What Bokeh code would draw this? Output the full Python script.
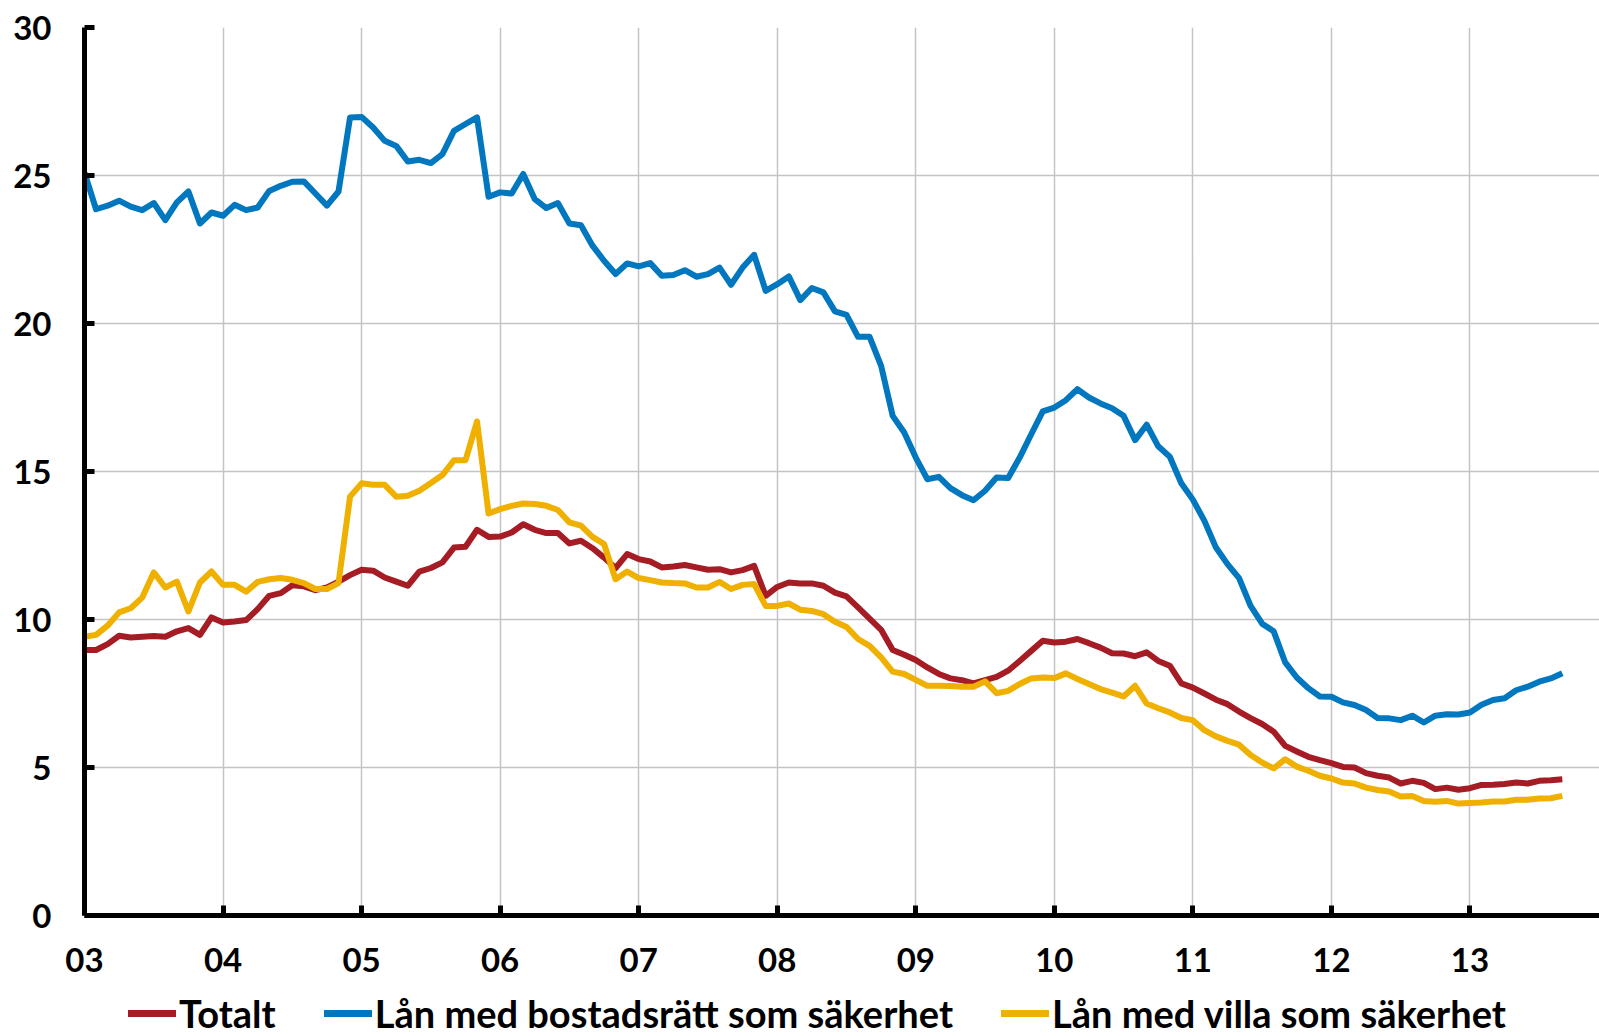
from bokeh.plotting import figure
from bokeh.layouts import column
from bokeh.models import Range1d, FixedTicker, Legend, LegendItem, ColumnDataSource
from bokeh.embed import file_html
from bokeh.resources import INLINE

# ---- data (monthly, Jan 2003 - Sep 2013) ----
start_year = 3          # 2003, shown as "03"
tick_years = [3, 4, 5, 6, 7, 8, 9, 10, 11, 12, 13]
tick_labels = ["03", "04", "05", "06", "07", "08", "09", "10", "11", "12", "13"]
y_ticks = [0, 5, 10, 15, 20, 25, 30]

series_names = ["Totalt", "Lån med bostadsrätt som säkerhet", "Lån med villa som säkerhet"]

totalt = [
    8.97, 8.97, 9.17, 9.45, 9.39, 9.42, 9.44, 9.42, 9.60, 9.71, 9.48, 10.07,
    9.90, 9.93, 9.98, 10.35, 10.80, 10.89, 11.16, 11.12, 10.99, 11.08, 11.28, 11.50,
    11.68, 11.65, 11.42, 11.28, 11.14, 11.62, 11.74, 11.93, 12.43, 12.46, 13.03, 12.79,
    12.80, 12.94, 13.22, 13.03, 12.92, 12.92, 12.57, 12.66, 12.41, 12.09, 11.74, 12.21,
    12.04, 11.96, 11.76, 11.79, 11.84, 11.76, 11.68, 11.70, 11.59, 11.67, 11.81, 10.80,
    11.10, 11.25, 11.22, 11.22, 11.14, 10.91, 10.78, 10.41, 10.03, 9.65, 8.97, 8.81,
    8.63, 8.38, 8.16, 8.01, 7.95, 7.84, 7.95, 8.06, 8.27, 8.60, 8.94, 9.28,
    9.22, 9.25, 9.34, 9.20, 9.05, 8.86, 8.85, 8.76, 8.89, 8.60, 8.44, 7.84,
    7.70, 7.50, 7.29, 7.14, 6.89, 6.67, 6.47, 6.21, 5.73, 5.54, 5.36, 5.25,
    5.15, 5.02, 5.00, 4.81, 4.72, 4.66, 4.46, 4.55, 4.48, 4.27, 4.32, 4.25,
    4.30, 4.41, 4.42, 4.44, 4.49, 4.46, 4.55, 4.57, 4.60,
]

bostadsratt = [
    25.10, 23.86, 23.98, 24.15, 23.95, 23.83, 24.07, 23.49, 24.09, 24.46, 23.38, 23.75,
    23.64, 24.01, 23.83, 23.92, 24.48, 24.65, 24.79, 24.80, 24.39, 23.98, 24.46, 26.96,
    26.98, 26.62, 26.17, 26.00, 25.47, 25.53, 25.42, 25.72, 26.51, 26.74, 26.96, 24.28,
    24.43, 24.39, 25.05, 24.20, 23.90, 24.07, 23.38, 23.32, 22.63, 22.12, 21.67, 22.03,
    21.93, 22.04, 21.61, 21.64, 21.80, 21.58, 21.67, 21.89, 21.31, 21.89, 22.32, 21.10,
    21.33, 21.59, 20.79, 21.20, 21.05, 20.41, 20.29, 19.55, 19.55, 18.57, 16.88, 16.32,
    15.47, 14.74, 14.82, 14.44, 14.20, 14.03, 14.35, 14.80, 14.78, 15.47, 16.26, 17.03,
    17.16, 17.41, 17.78, 17.50, 17.30, 17.14, 16.88, 16.06, 16.58, 15.85, 15.50, 14.60,
    14.05, 13.33, 12.43, 11.87, 11.40, 10.46, 9.86, 9.60, 8.55, 8.04, 7.68, 7.40,
    7.39, 7.20, 7.11, 6.94, 6.67, 6.66, 6.60, 6.75, 6.52, 6.75, 6.80, 6.79,
    6.86, 7.12, 7.28, 7.34, 7.61, 7.73, 7.90, 8.01, 8.18,
]

villa = [
    9.42, 9.48, 9.79, 10.24, 10.38, 10.74, 11.59, 11.08, 11.28, 10.27, 11.25, 11.62,
    11.17, 11.17, 10.94, 11.27, 11.36, 11.40, 11.34, 11.23, 11.03, 11.03, 11.23, 14.15,
    14.60, 14.55, 14.55, 14.15, 14.18, 14.35, 14.61, 14.88, 15.38, 15.38, 16.69, 13.58,
    13.73, 13.84, 13.92, 13.90, 13.84, 13.70, 13.28, 13.17, 12.79, 12.55, 11.36, 11.62,
    11.40, 11.33, 11.25, 11.23, 11.22, 11.08, 11.08, 11.27, 11.03, 11.17, 11.20, 10.46,
    10.46, 10.54, 10.33, 10.29, 10.18, 9.92, 9.75, 9.34, 9.11, 8.72, 8.24, 8.16,
    7.96, 7.76, 7.76, 7.75, 7.73, 7.73, 7.91, 7.51, 7.59, 7.82, 8.01, 8.04,
    8.02, 8.18, 7.99, 7.82, 7.65, 7.53, 7.40, 7.76, 7.16, 7.00, 6.86, 6.67,
    6.60, 6.26, 6.05, 5.90, 5.77, 5.42, 5.17, 4.97, 5.28, 5.03, 4.89, 4.72,
    4.63, 4.49, 4.46, 4.32, 4.24, 4.19, 4.02, 4.04, 3.87, 3.84, 3.87, 3.78,
    3.80, 3.82, 3.85, 3.85, 3.91, 3.91, 3.95, 3.96, 4.04,
]

colors = ["#a51c24", "#0077bf", "#efb000"]

# month positions in years
xs = [start_year + i / 12 for i in range(len(totalt))]

FONT = "Lato"
W = 1599

p = figure(
    width=W, height=988,
    output_backend="svg", toolbar_location=None,
    x_range=Range1d(3, 3 + (W - 84.5) / 138.5), y_range=Range1d(0, 30),
    min_border_left=84, min_border_top=27, min_border_right=0, min_border_bottom=73,
)
p.outline_line_color = None
p.background_fill_color = "white"
p.border_fill_color = "white"

# grid
p.xgrid.ticker = FixedTicker(ticks=tick_years)
p.ygrid.ticker = FixedTicker(ticks=y_ticks)
for g in (p.xgrid, p.ygrid):
    g.grid_line_color = "#c4c4c4"
    g.grid_line_width = 1.5

# axes
for ax in (p.xaxis, p.yaxis):
    ax.axis_line_color = "black"
    ax.axis_line_width = 5
    ax.major_tick_line_color = "black"
    ax.major_tick_line_width = 5
    ax.major_tick_in = 10
    ax.major_tick_out = 0
    ax.minor_tick_line_color = None
    ax.major_label_text_font = FONT
    ax.major_label_text_font_style = "bold"
    ax.major_label_text_font_size = "33px"
    ax.major_label_text_color = "black"

p.xaxis.ticker = FixedTicker(ticks=tick_years)
p.xaxis.major_label_overrides = {t: lab for t, lab in zip(tick_years, tick_labels)}
p.xaxis.major_label_standoff = 32
p.yaxis.ticker = FixedTicker(ticks=y_ticks)
p.yaxis.major_label_standoff = 33

for ys, col in zip([totalt, bostadsratt, villa], colors):
    src = ColumnDataSource(dict(x=xs, y=ys))
    p.line("x", "y", source=src, line_color=col, line_width=6, line_join="round")

# ---- legend in its own strip below the chart ----
leg = figure(
    width=W, height=48,
    output_backend="svg", toolbar_location=None,
    x_range=Range1d(0, 1), y_range=Range1d(0, 1),
    min_border_left=0, min_border_right=0, min_border_top=0, min_border_bottom=0,
    x_axis_type=None, y_axis_type=None,
)
leg.outline_line_color = None
leg.xgrid.visible = False
leg.ygrid.visible = False

nan = float("nan")
legend_items = []
for name, col in zip(series_names, colors):
    r = leg.line(x=[nan, nan], y=[nan, nan], line_color=col, line_width=7, line_cap="round")
    legend_items.append(LegendItem(label=name, renderers=[r]))

legend = Legend(
    items=legend_items, orientation="horizontal",
    location=(44, 0),
    glyph_width=48, glyph_height=40, label_standoff=3, spacing=48,
    padding=0, margin=0,
    border_line_color=None, background_fill_alpha=0,
    label_text_font=FONT, label_text_font_style="bold",
    label_text_font_size="38px", label_text_color="black",
)
leg.add_layout(legend, "center")

layout = column(p, leg, spacing=0)
open("out.html", "w").write(file_html(layout, INLINE))
